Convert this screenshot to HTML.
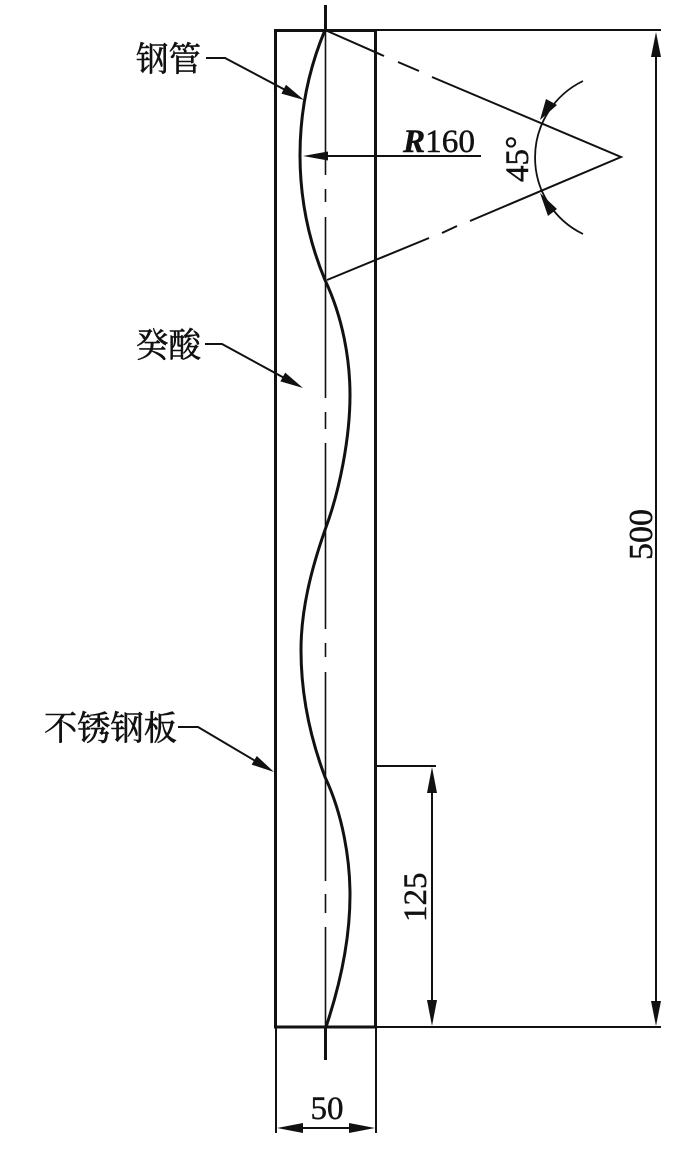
<!DOCTYPE html>
<html>
<head>
<meta charset="utf-8">
<style>
html,body{margin:0;padding:0;background:#fff;}
svg{display:block;}
text{fill:#111;stroke:#111;stroke-width:.45px;}
.n{font-family:"Liberation Serif",serif;font-size:33px;}
.c{font-family:"Liberation Serif","Noto Serif CJK SC",serif;font-size:34px;stroke-width:.6px;}
</style>
</head>
<body>
<svg width="700" height="1155" viewBox="0 0 700 1155" xmlns="http://www.w3.org/2000/svg">
  <rect width="700" height="1155" fill="#fff"/>
  <g fill="none" stroke="#111" stroke-linecap="butt">
    <!-- centerline -->
    <path d="M325.5 5V30M325.5 1027V1060" stroke-width="3"/>
    <path d="M325.5 30V175M325.5 189V202M325.5 217V398M325.5 412V429M325.5 443V629M325.5 643V657M325.5 672V881M325.5 894V913M325.5 927V1027" stroke-width="1.6"/>
    <!-- plate -->
    <rect x="275.5" y="30.5" width="100" height="996.5" stroke-width="3"/>
    <!-- tube curve -->
    <path d="M325 30A325 325 0 0 0 325 280C343 318 350 360 350 395C350 437 340 490 325 530C311 570 301 610 301 650C301 695 310 737 325 777C343 815 350 860 350 895C350 940 340 985 326 1027" stroke-width="3"/>
    <!-- construction lines -->
    <path d="M325 30L384 56M398 62L419 71M432 77L621 157L470 221M457 226L442 233M429 238L327 280" stroke-width="2"/>
    <!-- angle arc -->
    <path d="M583 81A85 85 0 0 0 583 234" stroke-width="1.8"/>
    <!-- R dim -->
    <path d="M310 156H481" stroke-width="2"/>
    <!-- extension lines -->
    <path d="M375 30H661M375 1027H661M376 766H436M276 1027V1133M376 1027V1133" stroke-width="2"/>
    <!-- dim lines -->
    <path d="M656 40V1020M432 775V1020M285 1128H368" stroke-width="2"/>
    <!-- leaders -->
    <path d="M206 58H225L290 92.5M205 344H222L288 380M178 727H198L258 762.5" stroke-width="2"/>
  </g>
  <g fill="#111" stroke="none">
    <polygon points="303,156 328,151.5 328,160.5"/>
    <polygon points="656,32 651,57 661,57"/>
    <polygon points="656,1026 651,1001 661,1001"/>
    <polygon points="432,767 427,793 437,793"/>
    <polygon points="432,1026 427,1000 437,1000"/>
    <polygon points="277,1128 303,1123 303,1133"/>
    <polygon points="375,1128 349,1123 349,1133"/>
    <polygon points="304,100 281.4,93.6 286,84.8"/>
    <polygon points="303,388 280.4,381.4 285.2,372.6"/>
    <polygon points="274,772 251.6,764.6 256.8,756"/>
    <polygon points="540,120 546,99 557,105"/>
    <polygon points="540,193 548,216 557,209"/>
  </g>
  <text class="c" x="136" y="71" textLength="65" lengthAdjust="spacingAndGlyphs">钢管</text>
  <text class="c" x="136" y="357" textLength="65" lengthAdjust="spacingAndGlyphs">癸酸</text>
  <text class="c" x="44" y="740" textLength="133" lengthAdjust="spacingAndGlyphs">不锈钢板</text>
  <text class="n" x="403" y="152" textLength="72" lengthAdjust="spacingAndGlyphs"><tspan font-style="italic" font-weight="bold">R</tspan>160</text>
  <text class="n" transform="translate(528,182) rotate(-90)">45°</text>
  <text class="n" transform="translate(652,560) rotate(-90)" style="font-size:34px">500</text>
  <text class="n" transform="translate(426,922) rotate(-90)">125</text>
  <text class="n" x="310.5" y="1119">50</text>
</svg>
</body>
</html>
